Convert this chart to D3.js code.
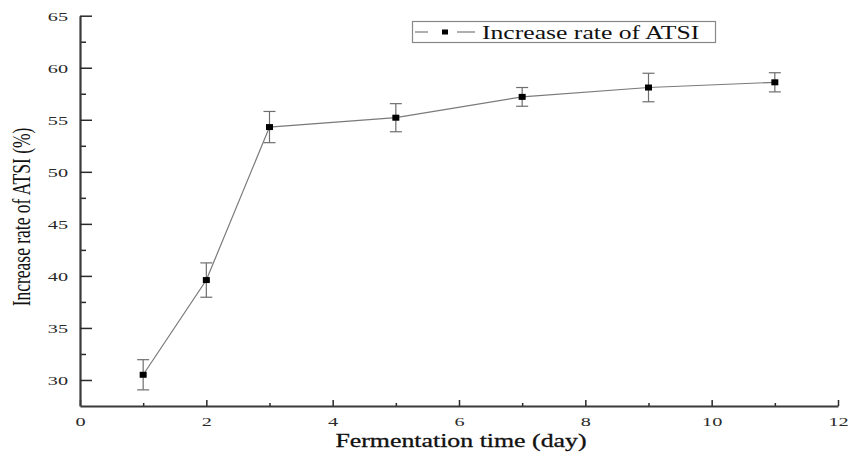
<!DOCTYPE html>
<html>
<head>
<meta charset="utf-8">
<script src="https://cdn.jsdelivr.net/npm/d3@7"></script>
<style>
  body { margin: 0; background: #fff; }
  text { font-family: "Liberation Serif", "Times New Roman", serif; }
</style>
</head>
<body>
<script>
'use strict';

// fermentation days and measured increase rate of ATSI (%)
const days = [1, 2, 3, 5, 7, 9, 11];
const rate = [30.5, 39.6, 54.3, 55.2, 57.2, 58.1, 58.6];
const errs = [1.45, 1.65, 1.5, 1.35, 0.9, 1.37, 0.92];

const xTicks = [0, 2, 4, 6, 8, 10, 12];
const yTicks = [30, 35, 40, 45, 50, 55, 60, 65];
const seriesName = 'Increase rate of ATSI';

const msm = {
  width: 850,
  height: 454,
  left: 80,
  right: 838,
  top: 15.7,
  bottom: 406
}

const svg = d3.select('body')
  .append('svg')
  .attr('width', msm.width)
  .attr('height', msm.height);

const xScale = d3.scaleLinear()
  .domain([0, 12])
  .range([msm.left, msm.right]);

const yScale = d3.scaleLinear()
  .domain([27.5, 65])
  .range([msm.bottom, msm.top]);

// stretch text horizontally, the original figure is wider than it should be
function stretch(sel, k) {
  sel.each(function() {
    let w = this.getComputedTextLength();
    d3.select(this)
      .attr('textLength', w * k)
      .attr('lengthAdjust', 'spacingAndGlyphs');
  });
}

// minor ticks first so the major ones draw on top
svg.append('g')
  .attr('transform', 'translate(0,' + msm.bottom + ')')
  .call(d3.axisBottom(xScale).tickValues([1, 3, 5, 7, 9, 11]).tickSize(-3).tickFormat(''))
  .call(g => g.select('.domain').remove());
svg.append('g')
  .attr('transform', 'translate(' + msm.left + ',0)')
  .call(d3.axisLeft(yScale).tickValues([32.5, 37.5, 42.5, 47.5, 52.5, 57.5, 62.5]).tickSize(-6).tickFormat(''))
  .call(g => g.select('.domain').remove());

const xAxis = svg.append('g')
  .attr('transform', 'translate(0,' + msm.bottom + ')')
  .call(d3.axisBottom(xScale).tickValues(xTicks).tickSize(-6).tickSizeOuter(0).tickPadding(10));

const yAxis = svg.append('g')
  .attr('transform', 'translate(' + msm.left + ',0)')
  .call(d3.axisLeft(yScale).tickValues(yTicks).tickSize(-12).tickSizeOuter(0).tickPadding(12));

svg.selectAll('.tick line').attr('stroke', '#2a2a2a').attr('stroke-width', 1.5);
svg.selectAll('.domain').attr('stroke', '#3a3a3a').attr('stroke-width', 2.2);
svg.selectAll('.tick text')
  .attr('font-family', '"Liberation Serif", serif')
  .attr('font-size', 13.5)
  .attr('fill', '#2a2a2a')
  .call(stretch, 1.5);

// connecting line
svg.append('path')
  .datum(days)
  .attr('fill', 'none')
  .attr('stroke', '#7a7a7a')
  .attr('stroke-width', 1.2)
  .attr('d', d3.line()
    .x((d) => xScale(d))
    .y((d, i) => yScale(rate[i])));

// error bars
const bars = svg.selectAll('.err')
  .data(days)
  .enter()
  .append('g')
  .attr('class', 'err')
  .attr('stroke', '#6e6e6e')
  .attr('stroke-width', 1.2);
bars.append('line')
  .attr('x1', (d) => xScale(d)).attr('x2', (d) => xScale(d))
  .attr('y1', (d, i) => yScale(rate[i] + errs[i]))
  .attr('y2', (d, i) => yScale(rate[i] - errs[i]));
bars.append('line')
  .attr('x1', (d) => xScale(d) - 6).attr('x2', (d) => xScale(d) + 6)
  .attr('y1', (d, i) => yScale(rate[i] + errs[i]))
  .attr('y2', (d, i) => yScale(rate[i] + errs[i]));
bars.append('line')
  .attr('x1', (d) => xScale(d) - 6).attr('x2', (d) => xScale(d) + 6)
  .attr('y1', (d, i) => yScale(rate[i] - errs[i]))
  .attr('y2', (d, i) => yScale(rate[i] - errs[i]));

// square markers
svg.selectAll('.dot')
  .data(days)
  .enter()
  .append('rect')
  .attr('class', 'dot')
  .attr('x', (d) => xScale(d) - 3.5)
  .attr('y', (d, i) => yScale(rate[i]) - 3)
  .attr('width', 7)
  .attr('height', 6)
  .attr('fill', '#000');

// axis titles
svg.append('text')
  .attr('x', 461)
  .attr('y', 447)
  .attr('text-anchor', 'middle')
  .attr('font-size', 19)
  .attr('fill', '#111')
  .attr('stroke', '#111')
  .attr('stroke-width', 0.3)
  .text('Fermentation time (day)')
  .call(stretch, 1.36);

svg.append('text')
  .attr('transform', 'translate(30,217) rotate(-90) scale(1,1.45)')
  .attr('text-anchor', 'middle')
  .attr('font-size', 17.5)
  .attr('fill', '#111')
  .text('Increase rate of ATSI (%)');

// legend
const legend = svg.append('g');
legend.append('rect')
  .attr('x', 412.5).attr('y', 21.5)
  .attr('width', 303).attr('height', 21)
  .attr('fill', '#fff')
  .attr('stroke', '#888')
  .attr('stroke-width', 1.2);
legend.append('line')
  .attr('x1', 415).attr('x2', 428).attr('y1', 32).attr('y2', 32)
  .attr('stroke', '#7a7a7a').attr('stroke-width', 1.2);
legend.append('line')
  .attr('x1', 457).attr('x2', 475).attr('y1', 32).attr('y2', 32)
  .attr('stroke', '#7a7a7a').attr('stroke-width', 1.2);
legend.append('rect')
  .attr('x', 442).attr('y', 29.5).attr('width', 6).attr('height', 5)
  .attr('fill', '#000');
legend.append('text')
  .attr('x', 482)
  .attr('y', 38.5)
  .attr('font-size', 19)
  .attr('fill', '#111')
  .text(seriesName)
  .call(stretch, 1.35);
</script>
</body>
</html>
